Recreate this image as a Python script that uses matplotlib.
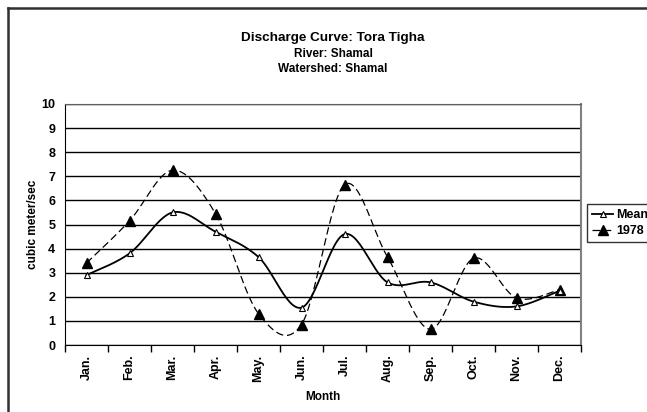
import numpy as np
import matplotlib
matplotlib.use("Agg")
from matplotlib import pyplot as plt
from matplotlib.lines import Line2D

plt.rcParams['font.family'] = ['Liberation Sans', 'DejaVu Sans']
plt.rcParams['font.weight'] = 'bold'

months = ['Jan.', 'Feb.', 'Mar.', 'Apr.', 'May.', 'Jun.', 'Jul.', 'Aug.', 'Sep.', 'Oct.', 'Nov.', 'Dec.']
mean_q = [2.9, 3.8, 5.5, 4.7, 3.65, 1.55, 4.6, 2.6, 2.6, 1.8, 1.6, 2.25]
q_1978 = [3.4, 5.15, 7.25, 5.45, 1.3, 0.85, 6.65, 3.65, 0.65, 3.6, 1.95, 2.3]


# excel-like smoothed line (bezier through the points)
def smooth(y, n=30):
    x = np.arange(len(y), dtype=float)
    y = np.asarray(y, dtype=float)
    px = np.concatenate([[x[0]], x, [x[-1]]])
    py = np.concatenate([[y[0]], y, [y[-1]]])
    xs, ys = [], []
    t = np.linspace(0, 1, n)
    for i in range(len(x) - 1):
        p0 = np.array([px[i + 1], py[i + 1]])
        p3 = np.array([px[i + 2], py[i + 2]])
        p1 = p0 + (p3 - np.array([px[i], py[i]])) / 6
        p2 = p3 - (np.array([px[i + 3], py[i + 3]]) - p0) / 6
        b = ((1 - t) ** 3)[:, None] * p0 + (3 * (1 - t) ** 2 * t)[:, None] * p1 \
            + (3 * (1 - t) * t ** 2)[:, None] * p2 + (t ** 3)[:, None] * p3
        if i > 0:
            b = b[1:]
        xs.extend(b[:, 0])
        ys.extend(b[:, 1])
    idx = [0] + [(n - 1) * k for k in range(1, len(x))]
    return np.array(xs), np.array(ys), idx


fig = plt.figure(figsize=(6.47, 4.12), dpi=100)
ax = fig.add_axes([65 / 647, 1 - 345 / 412, 516 / 647, 241 / 412])

xm, ym, im = smooth(mean_q)
x7, y7, i7 = smooth(q_1978)

ax.plot(x7, y7, color='black', lw=0.9, dashes=(6, 3), marker='^', markevery=i7,
        markersize=6.5, markerfacecolor='black', markeredgecolor='black', label='1978', zorder=3)
ax.plot(xm, ym, color='black', lw=1.3, marker='^', markevery=im,
        markersize=4.5, markerfacecolor='white', markeredgecolor='black', markeredgewidth=0.8,
        label='Mean', zorder=4)

ax.set_xlim(-0.5, 11.5)
ax.set_ylim(0, 10)
ax.set_yticks(range(0, 11))
ax.set_xticks(range(12))
ax.set_xticklabels(months, rotation=90, fontsize=9, fontweight='bold')
ax.set_xticks(np.arange(-0.5, 12, 1), minor=True)
ax.tick_params(axis='x', which='major', length=0, pad=7)
ax.tick_params(axis='x', which='minor', length=5, width=1, direction='out')
ax.tick_params(axis='y', length=0, pad=7, labelsize=9)
for lb in ax.get_yticklabels():
    lb.set_fontweight('bold')

ax.yaxis.grid(True, color='black', lw=1)
ax.set_axisbelow(True)
ax.spines['left'].set_color('black')
ax.spines['bottom'].set_color('black')
ax.spines['top'].set_color('#606060')
ax.spines['right'].set_color('#808080')
ax.spines['right'].set_linewidth(1.5)

ax.set_ylabel('cubic meter/sec', fontsize=8.5, fontweight='bold', labelpad=2)
ax.set_xlabel('Month', fontsize=8.5, fontweight='bold', labelpad=6)

fig.text(333 / 647, 1 - 38 / 412, 'Discharge Curve: Tora Tigha', ha='center', va='center',
         fontsize=9.7, fontweight='bold')
fig.text(333 / 647, 1 - 54 / 412, 'River: Shamal', ha='center', va='center', fontsize=8.5, fontweight='bold')
fig.text(333 / 647, 1 - 69 / 412, 'Watershed: Shamal', ha='center', va='center', fontsize=8.5, fontweight='bold')

# outer chart border (top and left visible)
fig.add_artist(Line2D([8 / 647, 1.0], [1 - 8 / 412, 1 - 8 / 412], color='#303030', lw=1.8))
fig.add_artist(Line2D([8 / 647, 8 / 647], [1 - 8 / 412, 0], color='#303030', lw=1.8))

h, l = ax.get_legend_handles_labels()
leg = fig.legend(h[::-1], l[::-1], loc='upper left', bbox_to_anchor=(587 / 647, 1 - 204 / 412),
                 fontsize=9, frameon=True, fancybox=False, borderpad=0.4, handlelength=1.7,
                 handletextpad=0.25, labelspacing=0.35, borderaxespad=0)
leg.get_frame().set_edgecolor('black')
leg.get_frame().set_linewidth(1)
for t in leg.get_texts():
    t.set_fontweight('bold')

fig.savefig('out.png', dpi=100)
